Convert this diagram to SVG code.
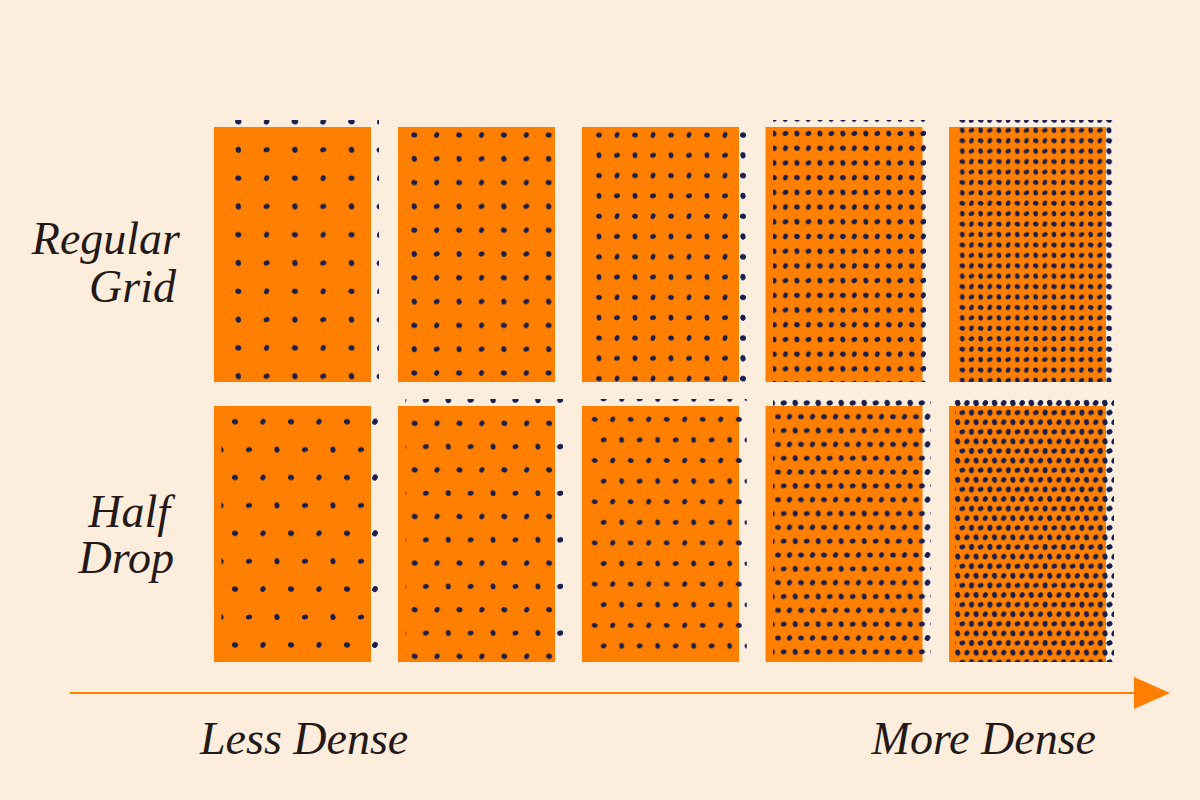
<svg xmlns="http://www.w3.org/2000/svg" xmlns:xlink="http://www.w3.org/1999/xlink" width="1200" height="800" viewBox="0 0 1200 800">
<style>
.bg{fill:#FDEDDD}
.card{fill:#FF7F00}
.dots ellipse{fill:#1A1E4A}
.h{stroke:#FFFFFF;stroke-width:1.6;paint-order:stroke}
.lbl{font-family:"Liberation Serif","DejaVu Serif",serif;font-style:italic;fill:#231A17}
.axis{stroke:#FF7F00;stroke-width:2}
</style>
<defs>
<g id="c1" class="dots">
<ellipse cx="14.15" cy="14.15" rx="3.1" ry="2.6" transform="rotate(20 14.15 14.15)"/>
<ellipse cx="42.45" cy="14.15" rx="3.0" ry="2.5" transform="rotate(-70 42.45 14.15)"/>
<ellipse cx="14.15" cy="42.45" rx="3.1" ry="2.7" transform="rotate(80 14.15 42.45)"/>
<ellipse cx="42.45" cy="42.45" rx="3.1" ry="2.5" transform="rotate(-20 42.45 42.45)"/>
</g>
<g id="c2" class="dots">
<ellipse cx="11.2" cy="11.9" rx="3.0" ry="2.6" transform="rotate(10 11.2 11.9)"/>
<ellipse cx="33.6" cy="11.9" rx="2.9" ry="2.4" transform="rotate(-60 33.6 11.9)"/>
<ellipse cx="11.2" cy="35.7" rx="3.0" ry="2.6" transform="rotate(80 11.2 35.7)"/>
<ellipse cx="33.6" cy="35.7" rx="3.0" ry="2.4" transform="rotate(-25 33.6 35.7)"/>
</g>
<g id="c3" class="dots">
<ellipse cx="9" cy="10.15" rx="2.9" ry="2.5" transform="rotate(15 9 10.15)"/>
<ellipse cx="27" cy="10.15" rx="2.9" ry="2.3" transform="rotate(-65 27 10.15)"/>
<ellipse cx="9" cy="30.45" rx="2.9" ry="2.5" transform="rotate(85 9 30.45)"/>
<ellipse cx="27" cy="30.45" rx="3.0" ry="2.3" transform="rotate(-20 27 30.45)"/>
</g>
<g id="c4" class="dots">
<ellipse cx="5.74" cy="7.355" rx="2.9" ry="2.5" transform="rotate(20 5.74 7.355)"/>
<ellipse cx="17.22" cy="7.355" rx="2.9" ry="2.4" transform="rotate(-70 17.22 7.355)"/>
<ellipse cx="5.74" cy="22.065" rx="2.9" ry="2.5" transform="rotate(80 5.74 22.065)"/>
<ellipse cx="17.22" cy="22.065" rx="2.9" ry="2.4" transform="rotate(-25 17.22 22.065)"/>
</g>
<g id="c5" class="dots">
<ellipse cx="4.585" cy="5.21" rx="2.8" ry="2.3" transform="rotate(20 4.585 5.21)"/>
<ellipse cx="13.755" cy="5.21" rx="2.8" ry="2.2" transform="rotate(-70 13.755 5.21)"/>
<ellipse cx="4.585" cy="15.63" rx="2.8" ry="2.3" transform="rotate(80 4.585 15.63)"/>
<ellipse cx="13.755" cy="15.63" rx="2.8" ry="2.2" transform="rotate(-25 13.755 15.63)"/>
</g>
<g id="d1" class="dots">
<ellipse cx="14" cy="13.95" rx="3.1" ry="2.6" transform="rotate(20 14 13.95)"/>
<ellipse cx="42" cy="13.95" rx="3.0" ry="2.5" transform="rotate(-60 42 13.95)"/>
<ellipse cx="0" cy="41.85" rx="3.1" ry="2.6" transform="rotate(80 0 41.85)"/>
<ellipse cx="56" cy="41.85" rx="3.1" ry="2.6" transform="rotate(80 56 41.85)"/>
<ellipse cx="28" cy="41.85" rx="3.1" ry="2.4" transform="rotate(-20 28 41.85)"/>
</g>
<g id="d2" class="dots">
<ellipse cx="11.2" cy="11.65" rx="3.0" ry="2.5" transform="rotate(15 11.2 11.65)"/>
<ellipse cx="33.6" cy="11.65" rx="3.0" ry="2.4" transform="rotate(-60 33.6 11.65)"/>
<ellipse cx="0" cy="34.95" rx="3.0" ry="2.5" transform="rotate(80 0 34.95)"/>
<ellipse cx="44.8" cy="34.95" rx="3.0" ry="2.5" transform="rotate(80 44.8 34.95)"/>
<ellipse cx="22.4" cy="34.95" rx="3.0" ry="2.4" transform="rotate(-20 22.4 34.95)"/>
</g>
<g id="d3" class="dots">
<ellipse cx="9" cy="10.3" rx="2.9" ry="2.4" transform="rotate(15 9 10.3)"/>
<ellipse cx="27" cy="10.3" rx="2.9" ry="2.3" transform="rotate(-60 27 10.3)"/>
<ellipse cx="0" cy="30.9" rx="2.9" ry="2.4" transform="rotate(80 0 30.9)"/>
<ellipse cx="36" cy="30.9" rx="2.9" ry="2.4" transform="rotate(80 36 30.9)"/>
<ellipse cx="18" cy="30.9" rx="2.9" ry="2.3" transform="rotate(-20 18 30.9)"/>
</g>
<g id="d4" class="dots">
<ellipse cx="5.75" cy="6.915" rx="2.9" ry="2.5" transform="rotate(15 5.75 6.915)"/>
<ellipse cx="17.25" cy="6.915" rx="2.9" ry="2.4" transform="rotate(-60 17.25 6.915)"/>
<ellipse cx="0" cy="20.745" rx="2.9" ry="2.5" transform="rotate(80 0 20.745)"/>
<ellipse cx="23" cy="20.745" rx="2.9" ry="2.5" transform="rotate(80 23 20.745)"/>
<ellipse cx="11.5" cy="20.745" rx="2.9" ry="2.4" transform="rotate(-20 11.5 20.745)"/>
</g>
<g id="d5" class="dots">
<ellipse cx="4.6" cy="4.8" rx="3.0" ry="2.5" transform="rotate(75 4.6 4.8)"/>
<ellipse cx="13.8" cy="4.8" rx="2.9" ry="2.4" transform="rotate(-60 13.8 4.8)"/>
<ellipse cx="0" cy="14.4" rx="3.0" ry="2.5" transform="rotate(90 0 14.4)"/>
<ellipse cx="18.4" cy="14.4" rx="3.0" ry="2.5" transform="rotate(90 18.4 14.4)"/>
<ellipse cx="9.2" cy="14.4" rx="2.9" ry="2.4" transform="rotate(-20 9.2 14.4)"/>
</g>
<pattern id="r1" patternUnits="userSpaceOnUse" x="224.15" y="107.35" width="56.6" height="56.6"><use href="#c1"/></pattern>
<pattern id="r1h" patternUnits="userSpaceOnUse" x="224.15" y="107.35" width="56.6" height="56.6"><use href="#c1" class="h"/></pattern>
<pattern id="r2" patternUnits="userSpaceOnUse" x="403.1" y="123.1" width="44.8" height="47.6"><use href="#c2"/></pattern>
<pattern id="r2h" patternUnits="userSpaceOnUse" x="403.1" y="123.1" width="44.8" height="47.6"><use href="#c2" class="h"/></pattern>
<pattern id="r3" patternUnits="userSpaceOnUse" x="590" y="124.85" width="36" height="40.6"><use href="#c3"/></pattern>
<pattern id="r3h" patternUnits="userSpaceOnUse" x="590" y="124.85" width="36" height="40.6"><use href="#c3" class="h"/></pattern>
<pattern id="r4" patternUnits="userSpaceOnUse" x="768.26" y="111.445" width="22.96" height="29.42"><use href="#c4"/></pattern>
<pattern id="r4h" patternUnits="userSpaceOnUse" x="768.26" y="111.445" width="22.96" height="29.42"><use href="#c4" class="h"/></pattern>
<pattern id="r5" patternUnits="userSpaceOnUse" x="957.715" y="114.69" width="18.34" height="20.84"><use href="#c5"/></pattern>
<pattern id="r5h" patternUnits="userSpaceOnUse" x="957.715" y="114.69" width="18.34" height="20.84"><use href="#c5" class="h"/></pattern>
<pattern id="h1" patternUnits="userSpaceOnUse" x="221" y="407.75" width="56" height="55.8"><use href="#d1"/></pattern>
<pattern id="h1h" patternUnits="userSpaceOnUse" x="221" y="407.75" width="56" height="55.8"><use href="#d1" class="h"/></pattern>
<pattern id="h2" patternUnits="userSpaceOnUse" x="403.5" y="411.65" width="44.8" height="46.6"><use href="#d2"/></pattern>
<pattern id="h2h" patternUnits="userSpaceOnUse" x="403.5" y="411.65" width="44.8" height="46.6"><use href="#d2" class="h"/></pattern>
<pattern id="h3" patternUnits="userSpaceOnUse" x="585.7" y="409" width="36" height="41.2"><use href="#d3"/></pattern>
<pattern id="h3h" patternUnits="userSpaceOnUse" x="585.7" y="409" width="36" height="41.2"><use href="#d3" class="h"/></pattern>
<pattern id="h4" patternUnits="userSpaceOnUse" x="772.25" y="409.785" width="23" height="27.66"><use href="#d4"/></pattern>
<pattern id="h4h" patternUnits="userSpaceOnUse" x="772.25" y="409.785" width="23" height="27.66"><use href="#d4" class="h"/></pattern>
<pattern id="h5" patternUnits="userSpaceOnUse" x="953.1" y="398.2" width="18.4" height="19.2"><use href="#d5"/></pattern>
<pattern id="h5h" patternUnits="userSpaceOnUse" x="953.1" y="398.2" width="18.4" height="19.2"><use href="#d5" class="h"/></pattern>
</defs>
<rect class="bg" x="0" y="0" width="1200" height="800"/>

<g id="regular-1"><rect x="221.5" y="120" width="157.5" height="262" fill="url(#r1h)"/><rect class="card" x="214" y="127" width="157" height="255"/><rect x="221.5" y="120" width="157.5" height="262" fill="url(#r1)"/></g>
<g id="regular-2"><rect x="405.5" y="120" width="157.5" height="262" fill="url(#r2h)"/><rect class="card" x="398" y="127" width="157" height="255"/><rect x="405.5" y="120" width="157.5" height="262" fill="url(#r2)"/></g>
<g id="regular-3"><rect x="589.5" y="120" width="157.5" height="262" fill="url(#r3h)"/><rect class="card" x="582" y="127" width="157" height="255"/><rect x="589.5" y="120" width="157.5" height="262" fill="url(#r3)"/></g>
<g id="regular-4"><rect x="773" y="120" width="157.5" height="262" fill="url(#r4h)"/><rect class="card" x="765.5" y="127" width="157" height="255"/><rect x="773" y="120" width="157.5" height="262" fill="url(#r4)"/></g>
<g id="regular-5"><rect x="956.5" y="120" width="157.5" height="262" fill="url(#r5h)"/><rect class="card" x="949" y="127" width="157" height="255"/><rect x="956.5" y="120" width="157.5" height="262" fill="url(#r5)"/></g>

<g id="halfdrop-1"><rect x="221.5" y="399" width="157.5" height="263" fill="url(#h1h)"/><rect class="card" x="214" y="406" width="157" height="256"/><rect x="221.5" y="399" width="157.5" height="263" fill="url(#h1)"/></g>
<g id="halfdrop-2"><rect x="405.5" y="399" width="157.5" height="263" fill="url(#h2h)"/><rect class="card" x="398" y="406" width="157" height="256"/><rect x="405.5" y="399" width="157.5" height="263" fill="url(#h2)"/></g>
<g id="halfdrop-3"><rect x="589.5" y="399" width="157" height="263" fill="url(#h3h)"/><rect class="card" x="582" y="406" width="157" height="256"/><rect x="589.5" y="399" width="157" height="263" fill="url(#h3)"/></g>
<g id="halfdrop-4"><rect x="773" y="399" width="158" height="263" fill="url(#h4h)"/><rect class="card" x="765.5" y="406" width="157" height="256"/><rect x="773" y="399" width="158" height="263" fill="url(#h4)"/></g>
<g id="halfdrop-5"><rect x="955" y="399" width="159" height="263" fill="url(#h5h)"/><rect class="card" x="949" y="406" width="157" height="256"/><rect x="955" y="399" width="159" height="263" fill="url(#h5)"/></g>

<g id="row-labels">
<text class="lbl" x="180" y="254" font-size="46" text-anchor="end">Regular</text>
<text class="lbl" x="176" y="302" font-size="46" text-anchor="end">Grid</text>
<text class="lbl" x="170" y="527" font-size="46" text-anchor="end">Half</text>
<text class="lbl" x="174" y="573" font-size="46" text-anchor="end">Drop</text>
</g>

<g id="connectors">
<line class="axis" x1="70" y1="693" x2="1136" y2="693"/>
<polygon points="1134,677 1134,709 1170,693" fill="#FF7F00"/>
</g>

<g id="axis-labels">
<text class="lbl" x="200" y="754" font-size="46">Less Dense</text>
<text class="lbl" x="1096" y="754" font-size="46" text-anchor="end">More Dense</text>
</g>
</svg>
